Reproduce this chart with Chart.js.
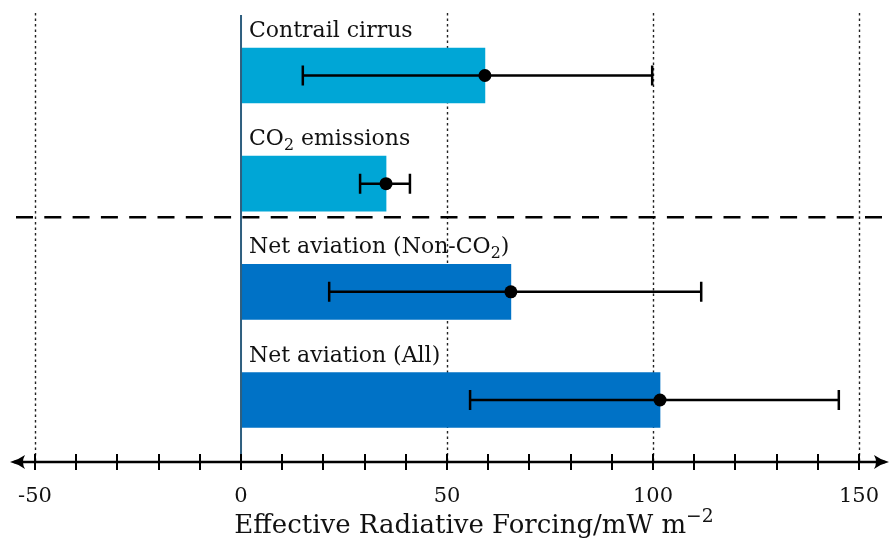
<!DOCTYPE html>
<html lang="en">
<head>
  <meta charset="UTF-8" />
  <title>Effective Radiative Forcing</title>
  <script src="https://cdn.jsdelivr.net/npm/chart.js"></script>
  <style>
    html, body { margin: 0; padding: 0; background: #fff; }
    #grafico { display: block; }
  </style>
</head>
<body>
  <canvas id="grafico" width="889" height="539"></canvas>

  <script>
    // dados
    const categorias = ['Contrail cirrus', 'CO₂ emissions', 'Net aviation (Non-CO₂)', 'Net aviation (All)'];
    const valores = [59.2, 35.2, 65.5, 101.7];
    const erroMin = [15, 28.9, 21.4, 55.6];
    const erroMax = [99.8, 41, 111.7, 145.1];
    const cores = ['#00a6d6', '#00a6d6', '#0072c6', '#0072c6'];

    const ticksX = [-50, -40, -30, -20, -10, 0, 10, 20, 30, 40, 50, 60, 70, 80, 90, 100, 110, 120, 130, 140, 150];
    const ticksRotulo = [-50, 0, 50, 100, 150];
    const tituloX = 'Effective Radiative Forcing/mW m⁻²';
    const separador = 1.31; // linha tracejada entre CO2 e os totais

    const FONTE = '"DejaVu Serif", "Liberation Serif", serif';

    // desenha texto com sub/sobrescritos (₂, ⁻, ²)
    const especiais = { '₂': ['2', 'sub'], '⁻': ['−', 'sup'], '²': ['2', 'sup'] };
    function partes(texto) {
      const out = [];
      for (const ch of texto) {
        const tipo = especiais[ch] ? especiais[ch][1] : 'n';
        const c = especiais[ch] ? especiais[ch][0] : ch;
        const ult = out[out.length - 1];
        if (ult && ult.tipo === tipo) ult.txt += c;
        else out.push({ txt: c, tipo });
      }
      return out;
    }
    function textoRico(ctx, texto, x, y, size, align) {
      const ps = partes(texto);
      let total = 0;
      ps.forEach(p => {
        const s = p.tipo === 'n' ? size : size * 0.72;
        ctx.font = s + 'px ' + FONTE;
        p.w = ctx.measureText(p.txt).width;
        p.s = s;
        total += p.w;
      });
      let cx = align === 'center' ? x - total / 2 : x;
      ctx.textAlign = 'left';
      ctx.textBaseline = 'alphabetic';
      ps.forEach(p => {
        ctx.font = p.s + 'px ' + FONTE;
        let dy = 0;
        if (p.tipo === 'sub') dy = size * 0.22;
        if (p.tipo === 'sup') dy = -size * 0.42;
        ctx.fillText(p.txt, cx, y + dy);
        cx += p.w;
      });
    }

    const desenhoExtra = {
      id: 'desenhoExtra',
      beforeDatasetsDraw(chart) {
        const { ctx, chartArea, scales: { x, y } } = chart;
        ctx.save();
        // grades pontilhadas
        ctx.strokeStyle = '#222';
        ctx.lineWidth = 1.4;
        ctx.setLineDash([2.5, 3]);
        ticksRotulo.filter(v => v !== 0).forEach(v => {
          const px = Math.round(x.getPixelForValue(v)) + 0.5;
          ctx.beginPath();
          ctx.moveTo(px, 13);
          ctx.lineTo(px, chartArea.bottom);
          ctx.stroke();
        });
        // separador tracejado
        const py = y.getPixelForValue(separador);
        ctx.strokeStyle = '#000';
        ctx.lineWidth = 2.5;
        ctx.setLineDash([17, 11.3]);
        ctx.beginPath();
        ctx.moveTo(16, py);
        ctx.lineTo(chartArea.right, py);
        ctx.stroke();
        ctx.restore();
      },
      afterDatasetsDraw(chart) {
        const { ctx, chartArea, scales: { x, y } } = chart;
        const meta = chart.getDatasetMeta(0);
        ctx.save();

        // barras de erro + ponto
        ctx.strokeStyle = '#000';
        ctx.fillStyle = '#000';
        ctx.lineWidth = 2.5;
        valores.forEach((v, i) => {
          const py = y.getPixelForValue(i);
          const x1 = x.getPixelForValue(erroMin[i]);
          const x2 = x.getPixelForValue(erroMax[i]);
          ctx.beginPath();
          ctx.moveTo(x1, py); ctx.lineTo(x2, py);
          ctx.moveTo(x1, py - 10); ctx.lineTo(x1, py + 10);
          ctx.moveTo(x2, py - 10); ctx.lineTo(x2, py + 10);
          ctx.stroke();
          ctx.beginPath();
          ctx.arc(x.getPixelForValue(v), py, 6.5, 0, Math.PI * 2);
          ctx.fill();
        });

        // rótulos acima das barras
        ctx.fillStyle = '#111';
        meta.data.forEach((bar, i) => {
          const topo = bar.y - bar.height / 2;
          textoRico(ctx, categorias[i], x.getPixelForValue(0) + 8, topo - 11, 22, 'left');
        });

        // linha do zero
        const x0 = x.getPixelForValue(0);
        ctx.strokeStyle = '#2f5f7f';
        ctx.lineWidth = 2;
        ctx.beginPath();
        ctx.moveTo(x0, 15);
        ctx.lineTo(x0, chartArea.bottom);
        ctx.stroke();

        // eixo x com setas
        const ay = chartArea.bottom;
        ctx.strokeStyle = '#000';
        ctx.fillStyle = '#000';
        ctx.lineWidth = 2.5;
        ctx.beginPath();
        ctx.moveTo(14, ay);
        ctx.lineTo(chartArea.right - 4, ay);
        ctx.stroke();
        [[10, 1], [chartArea.right, -1]].forEach(([tx, d]) => {
          ctx.beginPath();
          ctx.moveTo(tx, ay);
          ctx.quadraticCurveTo(tx + d * 8, ay - 2, tx + d * 15, ay - 7);
          ctx.quadraticCurveTo(tx + d * 11, ay, tx + d * 15, ay + 7);
          ctx.quadraticCurveTo(tx + d * 8, ay + 2, tx, ay);
          ctx.fill();
        });
        ctx.lineWidth = 2;
        ticksX.forEach(v => {
          const px = Math.round(x.getPixelForValue(v));
          ctx.beginPath();
          ctx.moveTo(px, ay - 8);
          ctx.lineTo(px, ay + 8);
          ctx.stroke();
        });

        // rótulos dos ticks e título
        ctx.fillStyle = '#111';
        ticksRotulo.forEach(v => {
          textoRico(ctx, String(v), x.getPixelForValue(v), ay + 40, 21, 'center');
        });
        textoRico(ctx, tituloX, 474, 533, 26, 'center');
        ctx.restore();
      }
    };

    new Chart(document.getElementById('grafico'), {
      type: 'bar',
      data: {
        datasets: [{
          data: valores.map((v, i) => ({ x: v, y: i })),
          backgroundColor: cores,
          borderWidth: 0,
          barThickness: 55
        }]
      },
      options: {
        indexAxis: 'y',
        responsive: false,
        animation: false,
        layout: { padding: { top: 0, left: 0, right: 0, bottom: 77 } },
        plugins: { legend: { display: false }, tooltip: { enabled: false } },
        scales: {
          x: { type: 'linear', display: false, offset: false, min: -58.5, max: 157.28 },
          y: { type: 'linear', display: false, offset: false, reverse: true, min: -0.698, max: 3.573 }
        }
      },
      plugins: [desenhoExtra]
    });
  </script>
</body>
</html>
